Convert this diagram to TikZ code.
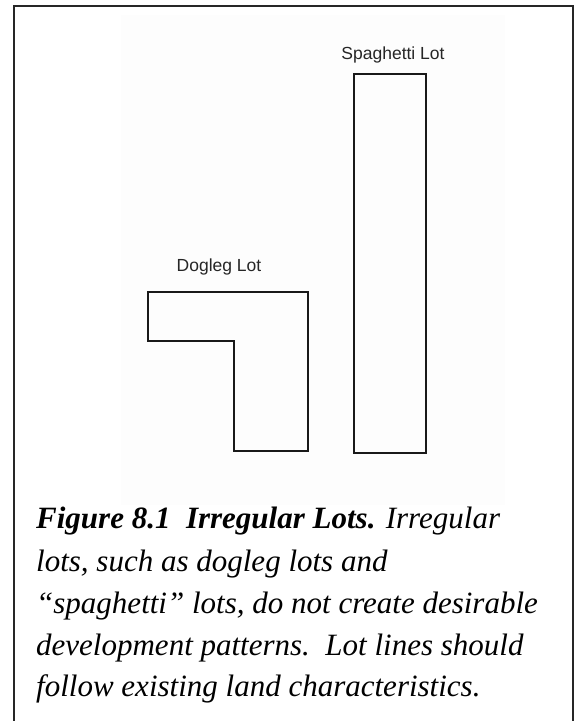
\documentclass[tikz,border=0pt]{standalone}
\usepackage{fontspec}
\setmainfont{Liberation Serif}
\newfontfamily\lotfont{Liberation Sans}
\definecolor{faint}{gray}{0.992}
\definecolor{lotline}{gray}{0.1}
\begin{document}
\begin{tikzpicture}[x=1pt,y=-1pt,
  frame/.style={draw=black!85,line width=2pt},
  lot/.style={draw=lotline,line width=1.3pt},
  lotlabel/.style={inner sep=0pt,font=\lotfont\fontsize{17.5}{20}\selectfont,text=black!85},
  capline/.style={inner sep=0pt,anchor=base west,font=\fontsize{31}{42}\selectfont\itshape}]
\useasboundingbox (0,0) rectangle (578,721);
\fill[white] (0,0) rectangle (578,721);
\fill[faint] (121,15) rectangle (505,505);
% outer frame (open at bottom)
\draw[frame] (14,730) -- (14,5.5) -- (573,5.5) -- (573,730);
% spaghetti lot
\draw[lot] (354,74) rectangle (426,453);
\node[lotlabel,anchor=base] (spaglabel) at (393,59) {Spaghetti Lot};
% dogleg lot
\draw[lot] (148,292) -- (308,292) -- (308,451) -- (234,451) -- (234,341) -- (148,341) -- cycle;
\node[lotlabel,anchor=base] (doglabel) at (219,271) {Dogleg Lot};
% caption
\node[capline] (cap1) at (36,528) {\textbf{Figure 8.1\ \ Irregular Lots.} Irregular};
\node[capline] (cap2) at (36,571) {lots, such as dogleg lots and};
\node[capline] (cap3) at (36,613) {“spaghetti” lots, do not create desirable};
\node[capline] (cap4) at (36,655) {development patterns.\ \ Lot lines should};
\node[capline] (cap5) at (36,696) {follow existing land characteristics.};
\end{tikzpicture}
\end{document}
